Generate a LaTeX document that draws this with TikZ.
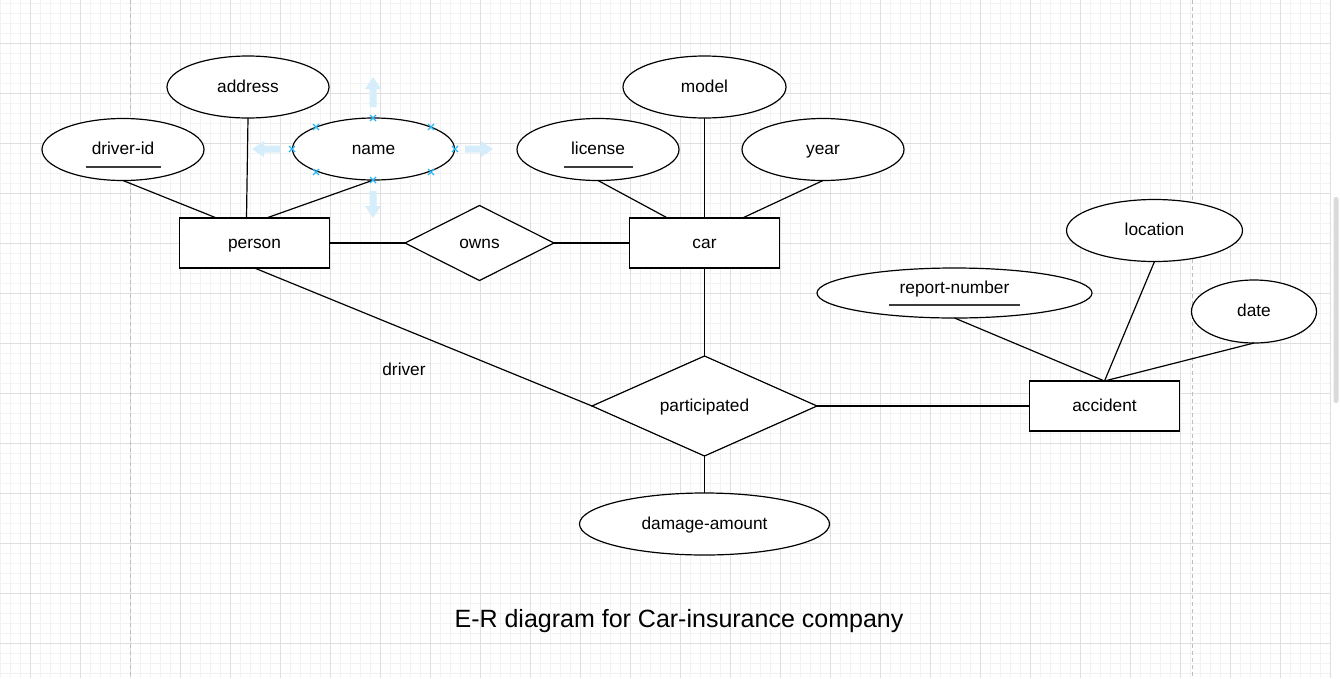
\documentclass[tikz,border=0pt]{standalone}
\usepackage{fontspec}
\setmainfont{Liberation Sans}
\usetikzlibrary{shapes.geometric}
\definecolor{gridminor}{RGB}{242,242,242}
\definecolor{gridmajor}{RGB}{223,223,223}
\definecolor{pageline}{RGB}{190,190,190}
\definecolor{selblue}{RGB}{41,182,242}
\definecolor{hoverblue}{RGB}{214,238,251}
\definecolor{ulgray}{RGB}{60,60,60}
\definecolor{thumbgray}{RGB}{218,218,218}
\begin{document}
\begin{tikzpicture}[x=1pt,y=-1pt,
  labelfont/.style={font=\fontsize{17.3}{20}\selectfont, text height=13pt, text depth=3pt, inner sep=0pt},
  base/.style={labelfont, draw=black, line width=1.2pt, fill=white, outer sep=0pt},
  entity/.style={base, rectangle, minimum width=150pt, minimum height=50pt},
  attr/.style={base, ellipse, minimum width=162pt, minimum height=62pt},
  rel/.style={base, diamond, shape aspect=2.25, minimum width=149pt, minimum height=75pt},
  conn/.style={line width=1.2pt, black},
  uline/.style={line width=1.3pt, ulgray},
  hover/.style={fill=hoverblue, draw=none},
  selmark/.style={draw=selblue, line width=1.2pt},
  minorgrid/.style={draw=gridminor, line width=0.9pt},
  majorgrid/.style={draw=gridmajor, line width=0.9pt},
  pagebreak/.style={draw=pageline, line width=1pt, dash pattern=on 4pt off 3pt}
]
\useasboundingbox (0,0) rectangle (1340,678);
\fill[white] (0,0) rectangle (1340,678);
% grid
\foreach \i in {0,10,...,1330} \draw[minorgrid] (\i,0) -- (\i,678);
\foreach \j in {3,13,...,673} \draw[minorgrid] (0,\j) -- (1330,\j);
\foreach \i in {30,80,...,1330} \draw[majorgrid] (\i,0) -- (\i,678);
\foreach \j in {43,93,...,643} \draw[majorgrid] (0,\j) -- (1330,\j);
% page break lines
\draw[pagebreak] (130,0) -- (130,678);
\draw[pagebreak] (1192,0) -- (1192,678);
% scrollbar
\fill[white] (1331,0) rectangle (1340,678);
\fill[thumbgray, rounded corners=2.5pt] (1333.5,197) rectangle (1338.5,403);

% attributes
\node[attr] (driverid) at (123,149.5) {driver-id};
\node[attr] (address) at (248,87) {address};
\node[attr] (name) at (373.5,149) {name};
\node[attr] (license) at (598,149.5) {license};
\node[attr, minimum width=163pt] (model) at (704.5,87) {model};
\node[attr] (year) at (823,149.5) {year};
\node[attr, minimum width=250pt] (damage) at (704.5,524) {damage-amount};
\node[attr, minimum width=176pt] (location) at (1154.5,230.5) {location};
\node[attr, minimum width=125pt, minimum height=63pt] (date) at (1254,311.5) {date};
\node[attr, minimum width=275pt, minimum height=50pt] (report) at (954.5,293) {\raisebox{5pt}[\height][\depth]{report-number}};

% entities
\node[entity] (person) at (254.5,243) {person};
\node[entity] (car) at (704.5,243) {car};
\node[entity] (accident) at (1104.5,406) {accident};

% relationships
\node[rel] (owns) at (479.5,243) {owns};
\node[rel, minimum width=225pt, minimum height=100pt] (participated) at (704.5,406) {participated};

% free labels
\node[labelfont] (driverlbl) at (404,370) {driver};
\node[font=\fontsize{25}{30}\selectfont, anchor=base, inner sep=0pt] (title) at (679,627) {E-R diagram for Car-insurance company};

% key underlines
\draw[uline] ([xshift=-37pt,yshift=-17.5pt]driverid.center) -- ([xshift=38pt,yshift=-17.5pt]driverid.center);
\draw[uline] ([xshift=-34pt,yshift=-17.5pt]license.center) -- ([xshift=35pt,yshift=-17.5pt]license.center);
\draw[uline] ([xshift=-65.5pt,yshift=-12pt]report.center) -- ([xshift=65.5pt,yshift=-12pt]report.center);

% connectors
\draw[conn] (driverid.south) -- ([xshift=37pt]person.north west);
\draw[conn] (address.south) -- ([xshift=67pt]person.north west);
\draw[conn] (name.south) -- ([xshift=87pt]person.north west);
\draw[conn] (person.east) -- (owns.west);
\draw[conn] (owns.east) -- (car.west);
\draw[conn] (license.south) -- ([xshift=38pt]car.north west);
\draw[conn] (model.south) -- (car.north);
\draw[conn] (year.south) -- ([xshift=-37pt]car.north east);
\draw[conn] (car.south) -- (participated.north);
\draw[conn] (person.south) -- (participated.west);
\draw[conn] (participated.east) -- (accident.west);
\draw[conn] (participated.south) -- (damage.north);
\draw[conn] (report.south) -- (accident.north);
\draw[conn] (location.south) -- (accident.north);
\draw[conn] (date.south) -- (accident.north);

% hover arrows around the selected "name" attribute
\path[hover] (373,77) -- (381,89) -- (376.5,89) -- (376.5,107) -- (369.5,107) -- (369.5,89) -- (365,89) -- cycle;
\path[hover] (373,218) -- (381,206) -- (376.5,206) -- (376.5,191) -- (369.5,191) -- (369.5,206) -- (365,206) -- cycle;
\path[hover] (252,149) -- (264,141) -- (264,145.5) -- (280,145.5) -- (280,152.5) -- (264,152.5) -- (264,157) -- cycle;
\path[hover] (493,149) -- (481,141) -- (481,145.5) -- (465,145.5) -- (465,152.5) -- (481,152.5) -- (481,157) -- cycle;
% selection marks
\foreach \a/\b in {373/118, 373/180, 292/149, 455/149, 316/127, 431/127, 316/172, 431/172}
  \draw[selmark] (\a,\b) +(-3,-3) -- +(3,3) (\a,\b) +(-3,3) -- +(3,-3);
\end{tikzpicture}
\end{document}
